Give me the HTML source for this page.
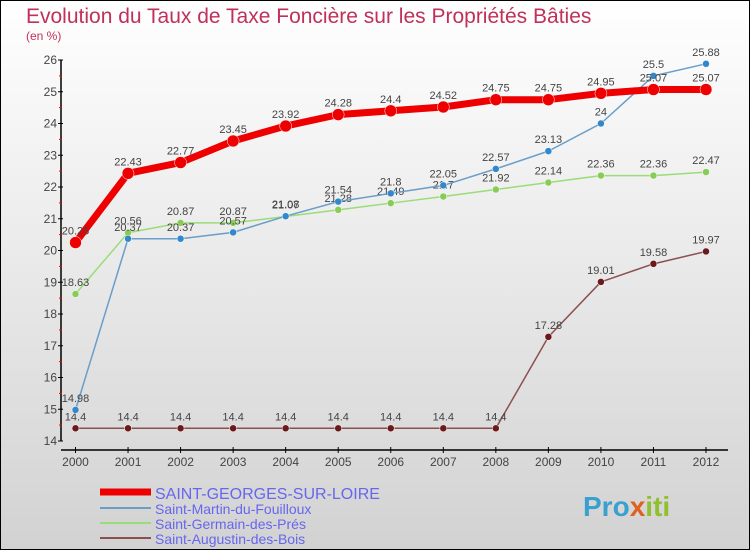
<!DOCTYPE html>
<html><head><meta charset="utf-8"><style>
body{margin:0;width:750px;height:550px;overflow:hidden;font-family:"Liberation Sans",sans-serif}
</style></head><body>
<svg width="750" height="550" xmlns="http://www.w3.org/2000/svg">
<defs><linearGradient id="bg" x1="0" y1="0" x2="0" y2="1"><stop offset="0" stop-color="#ffffff"/><stop offset="1" stop-color="#d2d2d2"/></linearGradient></defs>
<rect x="0.5" y="0.5" width="749" height="549" fill="url(#bg)" stroke="#000"/>
<text x="26" y="23" font-size="21" fill="#c0305a">Evolution du Taux de Taxe Foncière sur les Propriétés Bâties</text>
<text x="26" y="40" font-size="12" fill="#c0305a">(en %)</text>
<g id="axes"></g><g id="series"></g>
<g>
<line x1="100" y1="492" x2="151" y2="492" stroke="#ee0000" stroke-width="7"/>
<text x="155" y="499" font-size="16" fill="#6666ee">SAINT-GEORGES-SUR-LOIRE</text>
<line x1="100" y1="508" x2="151" y2="508" stroke="#6a9ec8" stroke-width="2"/>
<text x="155" y="514" font-size="14" fill="#6666ee">Saint-Martin-du-Fouilloux</text>
<line x1="100" y1="523" x2="151" y2="523" stroke="#99dd77" stroke-width="2"/>
<text x="155" y="529" font-size="14" fill="#6666ee">Saint-Germain-des-Prés</text>
<line x1="100" y1="538" x2="151" y2="538" stroke="#8a5050" stroke-width="2"/>
<text x="155" y="544" font-size="14" fill="#6666ee">Saint-Augustin-des-Bois</text>
</g>
<text x="583" y="516" font-size="28" font-weight="bold" fill="#3aa0d0">Pro<tspan fill="#e06020">x</tspan><tspan fill="#90c030">iti</tspan></text>
</svg>
<script>
const years=[2000,2001,2002,2003,2004,2005,2006,2007,2008,2009,2010,2011,2012];
const yTicks=[14,15,16,17,18,19,20,21,22,23,24,25,26];
const sGeorges=[20.25,22.43,22.77,23.45,23.92,24.28,24.4,24.52,24.75,24.75,24.95,25.07,25.07];
const sMartin=[14.98,20.37,20.37,20.57,21.08,21.54,21.8,22.05,22.57,23.13,24,25.5,25.88];
const sGermain=[18.63,20.56,20.87,20.87,21.07,21.28,21.49,21.7,21.92,22.14,22.36,22.36,22.47];
const sAugustin=[14.4,14.4,14.4,14.4,14.4,14.4,14.4,14.4,14.4,17.28,19.01,19.58,19.97];
const NS="http://www.w3.org/2000/svg";
const x=i=>75.5+i*(706-75.5)/12;
const y=v=>441-(v-14)*31.75;
function mk(t,a,p){const e=document.createElementNS(NS,t);for(const k in a)e.setAttribute(k,a[k]);p.appendChild(e);return e;}
const ax=document.getElementById('axes');
let yl=mk('line',{x1:61,y1:y(26),x2:61,y2:y(14),stroke:'#000','stroke-width':1.5},ax);


yTicks.forEach(v=>{
 mk('line',{x1:58,y1:y(v),x2:63,y2:y(v),stroke:'#000'},ax);
 if(v<26)mk('line',{x1:59,y1:y(v+0.5),x2:62,y2:y(v+0.5),stroke:'#f00'},ax);
 const t=mk('text',{x:57,y:y(v)+4,'text-anchor':'end','font-size':12,fill:'#444'},ax);t.textContent=v;
 
 
});
let xl=mk('line',{x1:61,y1:450,x2:728,y2:450,stroke:'#000','stroke-width':1.5},ax);


years.forEach((yr,i)=>{
 mk('line',{x1:x(i),y1:447,x2:x(i),y2:453,stroke:'#000'},ax);
 const t=mk('text',{x:x(i),y:466,'text-anchor':'middle','font-size':12,fill:'#444'},ax);t.textContent=yr;
 
 
});
const sg=document.getElementById('series');
function draw(vals,color,w,r,dot,name){
 const g=mk('g',{},sg);
 
 
 mk('polyline',{points:vals.map((v,i)=>x(i)+','+y(v)).join(' '),fill:'none',stroke:color,'stroke-width':w,'stroke-linejoin':'round'},g);
 vals.forEach((v,i)=>{
  const c=mk('circle',{cx:x(i),cy:y(v),r:r,fill:dot,stroke:'#fff','stroke-width':0.5},g);
  
  
  const t=mk('text',{x:x(i),y:y(v)-8,'text-anchor':'middle','font-size':11,fill:'#444'},g);t.textContent=v;
 });
}
draw(sAugustin,'#8a5050',1.5,3.5,'#6a1a1a','series-saint-augustin');
draw(sGermain,'#99dd77',1.5,3.5,'#88cc55','series-saint-germain');
draw(sMartin,'#6a9ec8',1.5,3.5,'#3388cc','series-saint-martin');
draw(sGeorges,'#ee0000',7,6,'#ee0000','series-saint-georges');
</script>
</body></html>
